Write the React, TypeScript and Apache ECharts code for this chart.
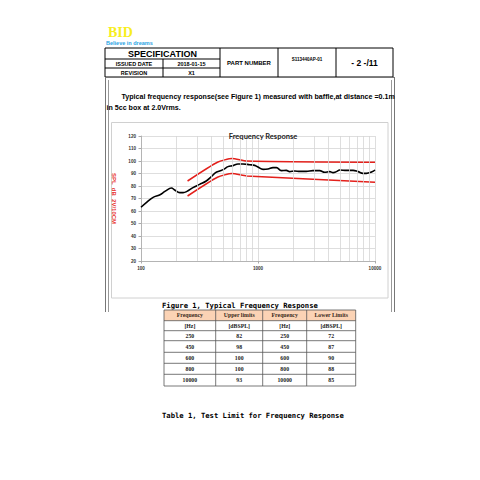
import React, { useEffect, useRef } from "react";
import * as echarts from "echarts";

// ---- chart data ----
const responseFreqs = [100, 111, 127, 144, 159, 176, 182, 194, 214, 229, 247, 278, 317, 361, 399, 434, 470, 509, 554, 611, 674, 744, 849, 936, 1000, 1104, 1217, 1343, 1438, 1582, 1746, 1866, 2058, 2270, 2588, 2951, 3365, 3714, 4098, 4378, 4675, 4991, 5690, 6489, 7159, 7890, 8433, 9333, 10000];
const responseSpl = [63, 66.7, 70.9, 72.8, 75.5, 78.1, 78.4, 76.8, 74.7, 74.7, 75.7, 78.7, 81.3, 84, 87.5, 90.7, 92, 93.3, 95.5, 96.3, 97.6, 97.6, 97, 96.5, 95.2, 93.3, 93.6, 94.7, 94.7, 92.3, 92.5, 91.5, 92, 91.7, 91.7, 92.3, 92.3, 91, 91.5, 90.7, 91.5, 92.8, 92.5, 92.5, 91.5, 90.1, 90.1, 91.2, 92.8];
const limitCurveFreqs = [250, 450, 600, 800, 10000];
const upperCurve = [84, 99, 102, 100, 99];
const lowerCurve = [72, 87, 90, 88, 83];
const minorGridFreqs = [200, 300, 400, 500, 600, 700, 800, 900, 2000, 3000, 4000, 5000, 6000, 7000, 8000, 9000];

// ---- document table data ----
const tableHeaders = ["Frequency", "Upper limits", "Frequency", "Lower Limits"];
const tableUnits = ["[Hz]", "[dBSPL]", "[Hz]", "[dBSPL]"];
const tableFreqs = [250, 450, 600, 800, 10000];
const tableUpper = [82, 98, 100, 100, 93];
const tableLower = [72, 87, 90, 88, 85];

const T = (text: string, x: number, y: number, font: string, fill = "#000", align = "center", v = "middle") => ({
  type: "text",
  x,
  y,
  silent: true,
  style: { text, font, fill, align, verticalAlign: v, textAlign: align, textVerticalAlign: v },
});
const L = (x1: number, y1: number, x2: number, y2: number, stroke = "#000", lineWidth = 1) => ({
  type: "line",
  silent: true,
  shape: { x1, y1, x2, y2 },
  style: { stroke, lineWidth },
});
const R = (x: number, y: number, width: number, height: number, fill: string, stroke: string, lineWidth = 1) => ({
  type: "rect",
  silent: true,
  shape: { x, y, width, height },
  style: { fill, stroke, lineWidth },
});

function buildGraphics() {
  const g: any[] = [];
  // logo
  g.push(T("BID", 108, 32, 'bold 14px "Liberation Serif"', "#f7ee1e", "left"));
  g.push(T("Believe in dreams", 106, 43.3, 'bold 5.5px "Liberation Sans"', "#2aa3e3", "left"));
  // header table
  g.push(R(105, 48, 288, 29, "#fff", "#000", 1));
  g.push(L(105, 59, 220, 59));
  g.push(L(105, 68, 220, 68));
  g.push(L(163, 59, 163, 77));
  g.push(L(220, 48, 220, 77));
  g.push(L(278, 48, 278, 77));
  g.push(L(336, 48, 336, 77));
  g.push(T("SPECIFICATION", 162.5, 54, 'bold 9px "Liberation Sans"'));
  g.push(T("ISSUED DATE", 134, 64, 'bold 5.5px "Liberation Sans"'));
  g.push(T("2018-01-15", 191.5, 64, 'bold 5.5px "Liberation Sans"'));
  g.push(T("REVISION", 134, 72.8, 'bold 5.5px "Liberation Sans"'));
  g.push(T("X1", 191.5, 72.8, 'bold 5.5px "Liberation Sans"'));
  g.push(T("PART NUMBER", 249, 62.5, 'bold 6px "Liberation Sans"'));
  g.push(T("S113440AP-01", 307, 59.5, 'bold 4.5px "Liberation Sans"'));
  g.push(T("- 2 -/11", 364.5, 62.5, 'bold 8.5px "Liberation Sans"'));
  // outer frame
  g.push(L(105, 77.5, 394.5, 77.5, "#777", 1));
  g.push(L(105.5, 77, 105.5, 312, "#777", 1));
  g.push(L(108.5, 80, 108.5, 312, "#999", 1));
  g.push(L(391.5, 80, 391.5, 312, "#999", 1));
  g.push(L(394.5, 77, 394.5, 312, "#777", 1));
  // paragraph
  g.push(T("Typical frequency response(see Figure 1) measured with baffle,at distance =0.1m", 121.5, 97, 'bold 7.1px "Liberation Sans"', "#000", "left"));
  g.push(T("in 5cc box at 2.0Vrms.", 106.5, 108.3, 'bold 7.1px "Liberation Sans"', "#000", "left"));
  // chart inner box
  g.push(R(111.5, 122.5, 276.5, 175.5, "none", "#d0d0d0", 1));
  // figure caption
  g.push(T("Figure 1, Typical Frequency Response", 162, 305, 'bold 7.2px "DejaVu Sans Mono"', "#000", "left"));
  // limits table
  const cx = [164, 215.7, 262.7, 306.7, 355.7];
  const ry = [310, 320.7, 330.7, 340.7, 352.3, 363.3, 374.3, 386];
  g.push(R(cx[0], ry[0], cx[4] - cx[0], ry[1] - ry[0], "#fbd3b5", "none", 0));
  const rows: string[][] = [tableHeaders, tableUnits];
  tableFreqs.forEach((f, i) => rows.push([String(f), String(tableUpper[i]), String(f), String(tableLower[i])]));
  rows.forEach((row, ri) => {
    row.forEach((cell, ci) => {
      g.push(T(cell, (cx[ci] + cx[ci + 1]) / 2, (ry[ri] + ry[ri + 1]) / 2, 'bold 5.8px "Liberation Serif"', ri === 0 ? "#3a2a20" : "#222"));
    });
  });
  ry.forEach((y) => g.push(L(cx[0], y, cx[4], y, "#555", 0.8)));
  cx.forEach((x) => g.push(L(x, ry[0], x, ry[ry.length - 1], "#555", 0.8)));
  g.push(T("Table 1, Test Limit for Frequency Response", 162, 415, 'bold 7.2px "DejaVu Sans Mono"', "#000", "left"));
  return g;
}

export default function App() {
  const ref = useRef<HTMLDivElement>(null);
  useEffect(() => {
    if (!ref.current) return;
    const chart = echarts.init(ref.current, undefined, { renderer: "svg" });
    const zip = (xs: number[], ys: number[]) => xs.map((x, i) => [x, ys[i]]);
    chart.setOption({
      animation: false,
      backgroundColor: "#fff",
      title: {
        text: "Frequency Response",
        left: 258,
        top: 127.5,
        textAlign: "center",
        textStyle: { fontFamily: "Lato", fontWeight: "bold", fontSize: 7.5, color: "#222" },
      },
      grid: { left: 141, right: 105, top: 136, bottom: 219, containLabel: false },
      xAxis: {
        type: "log",
        logBase: 10,
        min: 100,
        max: 10000,
        axisLine: { show: true, lineStyle: { color: "#aaa", width: 0.8 } },
        axisTick: { show: true, length: 2.5, lineStyle: { color: "#aaa" } },
        axisLabel: {
          fontSize: 4.6,
          fontWeight: "bold",
          color: "#333",
          margin: 5,
          fontFamily: "Liberation Sans",
          formatter: (v: number) => String(Math.round(v)),
        },
        splitLine: { show: true, lineStyle: { color: "#d6d6d6", width: 0.8 } },
      },
      yAxis: {
        type: "value",
        min: 20,
        max: 120,
        interval: 10,
        name: "SPL  dB  2V/10CM",
        nameLocation: "middle",
        nameRotate: -90,
        nameGap: 24,
        nameTextStyle: { color: "#e8322c", fontSize: 6, fontWeight: "bold", fontFamily: "Liberation Sans" },
        axisLine: { show: true, lineStyle: { color: "#aaa", width: 0.8 } },
        axisTick: { show: true, length: 2.5, lineStyle: { color: "#aaa" } },
        axisLabel: { fontSize: 4.6, fontWeight: "bold", color: "#333", margin: 5, fontFamily: "Liberation Sans" },
        splitLine: { show: true, lineStyle: { color: "#d6d6d6", width: 0.8 } },
      },
      series: [
        {
          type: "line",
          data: [],
          z: 1,
          silent: true,
          markLine: {
            silent: true,
            symbol: ["none", "none"],
            label: { show: false },
            lineStyle: { color: "#d6d6d6", width: 0.8, type: "solid" },
            data: minorGridFreqs.map((f) => ({ xAxis: f })),
          },
        },
        {
          type: "line",
          data: zip(limitCurveFreqs, upperCurve),
          showSymbol: false,
          smooth: 0.2,
          z: 3,
          lineStyle: { color: "#e3201b", width: 1.5 },
        },
        {
          type: "line",
          data: zip(limitCurveFreqs, lowerCurve),
          showSymbol: false,
          smooth: 0.2,
          z: 3,
          lineStyle: { color: "#e3201b", width: 1.5 },
        },
        {
          type: "line",
          data: zip(responseFreqs, responseSpl),
          showSymbol: false,
          smooth: 0.4,
          z: 4,
          lineStyle: { color: "#000", width: 1.6 },
        },
      ],
      graphic: buildGraphics(),
    });
    return () => chart.dispose();
  }, []);
  return <div ref={ref} style={{ position: "fixed", left: 0, top: 0, width: 480, height: 480 }} />;
}
